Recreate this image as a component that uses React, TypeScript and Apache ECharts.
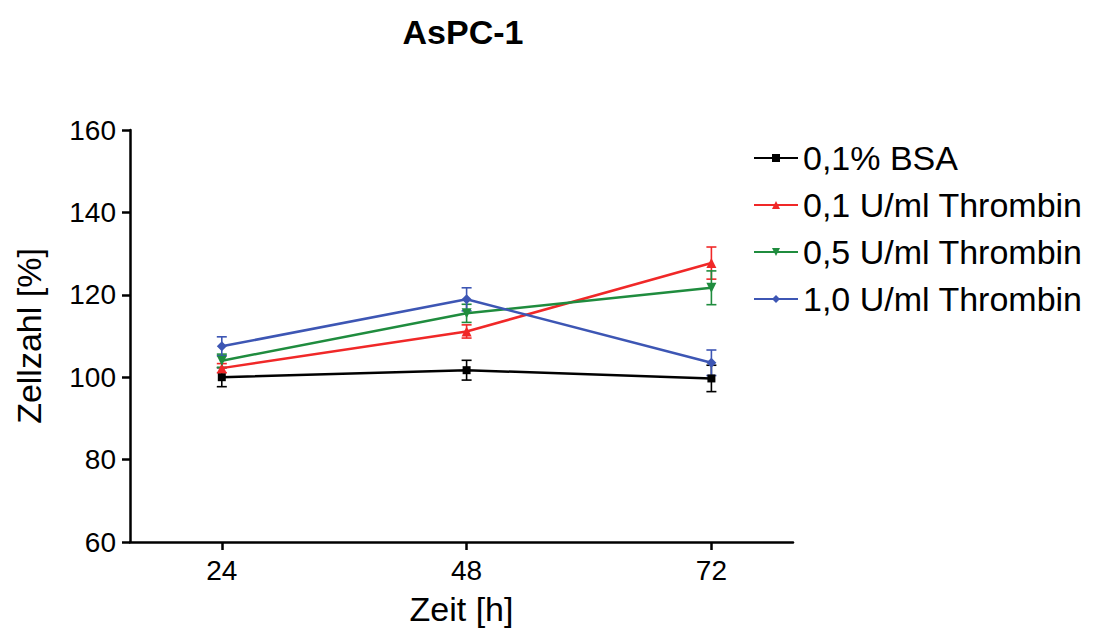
import React, { useEffect, useRef } from "react";
import * as echarts from "echarts";

const times = [24, 48, 72];
const xTickLabels = ["24", "48", "72"];
const seriesNames = ["0,1% BSA", "0,1 U/ml Thrombin", "0,5 U/ml Thrombin", "1,0 U/ml Thrombin"];
const bsa = [100.0, 101.7, 99.7];
const bsaErr = [2.3, 2.4, 3.2];
const thr01 = [102.2, 111.1, 127.7];
const thr01Err = [1.1, 1.6, 3.9];
const thr05 = [104.0, 115.5, 121.7];
const thr05Err = [1.6, 2.2, 4.1];
const thr10 = [107.5, 118.9, 103.5];
const thr10Err = [2.3, 2.8, 3.1];

const colors = ["#000000", "#f02828", "#1f8c3e", "#3d56b4"];
const symbols = ["rect", "triangle", "triangle", "diamond"];
const symbolSizes = [8, 10, 10, 10];
const symbolRotates = [0, 0, 180, 0];

export default function App() {
  const ref = useRef<HTMLDivElement>(null);
  useEffect(() => {
    if (!ref.current) return;
    document.body.style.margin = "0";
    const chart = echarts.init(ref.current, null, { renderer: "svg" });
    const values = [bsa, thr01, thr05, thr10];
    const errs = [bsaErr, thr01Err, thr05Err, thr10Err];
    const font = "Liberation Sans, Arial, sans-serif";

    const lineSeries = values.map((v, k) => ({
      name: seriesNames[k],
      type: "line",
      data: times.map((t, i) => [t, v[i]]),
      symbol: symbols[k],
      symbolSize: symbolSizes[k],
      symbolRotate: symbolRotates[k],
      color: colors[k],
      lineStyle: { color: colors[k], width: 2.5 },
      itemStyle: { color: colors[k] },
      z: 3,
    }));

    const errSeries = values.map((v, k) => ({
      name: "err" + k,
      type: "custom",
      color: colors[k],
      data: times.map((t, i) => [t, v[i] - errs[k][i], v[i] + errs[k][i]]),
      renderItem: (params: any, api: any) => {
        const x = api.value(0);
        const lo = api.coord([x, api.value(1)]);
        const hi = api.coord([x, api.value(2)]);
        const hw = 5;
        const style = { stroke: colors[k], lineWidth: 1.6 };
        return {
          type: "group",
          children: [
            { type: "line", shape: { x1: lo[0], y1: lo[1], x2: hi[0], y2: hi[1] }, style },
            { type: "line", shape: { x1: lo[0] - hw, y1: lo[1], x2: lo[0] + hw, y2: lo[1] }, style },
            { type: "line", shape: { x1: hi[0] - hw, y1: hi[1], x2: hi[0] + hw, y2: hi[1] }, style },
          ],
        };
      },
      z: 2,
    }));

    chart.setOption({
      animation: false,
      backgroundColor: "#ffffff",
      title: {
        text: "AsPC-1",
        left: 458,
        top: 10,
        textAlign: "center",
        textStyle: { fontFamily: font, fontSize: 34, fontWeight: "bold", color: "#000" },
      },
      legend: {
        orient: "vertical",
        left: 748,
        top: 136,
        itemWidth: 44,
        itemHeight: 10,
        itemGap: 13,
        data: seriesNames,
        textStyle: { fontFamily: font, fontSize: 34, lineHeight: 34, color: "#000" },
      },
      grid: { left: 130, right: 308, top: 130, bottom: 91 },
      xAxis: {
        type: "value",
        min: 15,
        max: 80,
        name: "Zeit [h]",
        nameLocation: "middle",
        nameGap: 50,
        nameTextStyle: { fontFamily: font, fontSize: 34, color: "#000" },
        axisLine: { show: true, lineStyle: { color: "#000", width: 2.5 } },
        axisTick: { show: true, length: 8, lineStyle: { color: "#000", width: 2.5 }, customValues: times },
        axisLabel: {
          fontFamily: font,
          fontSize: 28,
          color: "#000",
          margin: 14,
          customValues: times,
          formatter: (val: number) => xTickLabels[times.indexOf(val)] ?? "",
        },
        splitLine: { show: false },
      },
      yAxis: {
        type: "value",
        min: 60,
        max: 160,
        interval: 20,
        name: "Zellzahl [%]",
        nameLocation: "middle",
        nameGap: 84,
        nameRotate: 90,
        nameTextStyle: { fontFamily: font, fontSize: 34, color: "#000" },
        axisLine: { show: true, lineStyle: { color: "#000", width: 2.5 } },
        axisTick: { show: true, length: 8, lineStyle: { color: "#000", width: 2.5 } },
        axisLabel: { fontFamily: font, fontSize: 28, color: "#000", margin: 14 },
        splitLine: { show: false },
      },
      series: [...lineSeries, ...errSeries],
    });
    return () => chart.dispose();
  }, []);
  return <div ref={ref} style={{ width: 1101, height: 633 }} />;
}
